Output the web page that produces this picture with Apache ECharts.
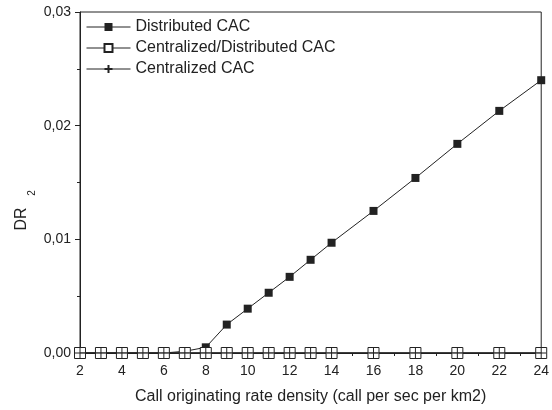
<!DOCTYPE html>
<html>
<head>
<meta charset="utf-8">
<script src="https://cdn.jsdelivr.net/npm/echarts@6/dist/echarts.min.js"></script>
<style>
html,body{margin:0;padding:0;background:#fff;}
#chart{width:552px;height:410px;}
</style>
</head>
<body>
<div id="chart"></div>
<script>
var xValues = [2, 3, 4, 5, 6, 7, 8, 9, 10, 11, 12, 13, 14, 16, 18, 20, 22, 24];
var distributed = [0, 0, 0, 0, 0, 0.00015, 0.0005, 0.0025, 0.0039, 0.0053, 0.0067, 0.0082, 0.0097, 0.0125, 0.0154, 0.0184, 0.0213, 0.0240];
var centralizedDistributed = [0, 0, 0, 0, 0, 0, 0, 0, 0, 0, 0, 0, 0, 0, 0, 0, 0, 0];
var centralized = [0, 0, 0, 0, 0, 0, 0, 0, 0, 0, 0, 0, 0, 0, 0, 0, 0, 0];
var seriesNames = ['Distributed CAC', 'Centralized/Distributed CAC', 'Centralized CAC'];
var xTitle = 'Call originating rate density (call per sec per km2)';
var yTitle = 'DR';
var yTitleSub = '2';

function pairs(vals) {
  return xValues.map(function (x, i) { return [x, vals[i]]; });
}

var ink = '#222';
var chart = echarts.init(document.getElementById('chart'), null, {renderer: 'canvas'});
var font = "'Liberation Sans', Arial, sans-serif";

chart.setOption({
  animation: false,
  backgroundColor: '#fff',
  textStyle: {fontFamily: font, color: ink},
  grid: {left: 80, right: 10, top: 12, bottom: 54, show: true, borderColor: ink, borderWidth: 1, backgroundColor: 'transparent'},
  legend: {
    left: 81, top: 14, orient: 'vertical',
    itemWidth: 44, itemHeight: 10, itemGap: 5,
    lineStyle: {width: 1},
    textStyle: {fontSize: 16, color: ink, fontFamily: font},
    data: seriesNames
  },
  xAxis: {
    type: 'value', min: 2, max: 24, interval: 2,
    name: xTitle, nameLocation: 'middle', nameGap: 36,
    nameTextStyle: {fontSize: 16, color: ink, fontFamily: font},
    axisLine: {show: true, onZero: false, lineStyle: {color: ink, width: 1}},
    axisTick: {show: true, inside: false, length: 5, lineStyle: {color: ink}},
    minorTick: {show: true, splitNumber: 2, length: 3, lineStyle: {color: ink}},
    axisLabel: {fontSize: 14, color: ink, margin: 11, fontFamily: font},
    splitLine: {show: false}
  },
  yAxis: {
    type: 'value', min: 0, max: 0.03, interval: 0.01,
    axisLine: {show: true, lineStyle: {color: ink, width: 1}},
    axisTick: {show: true, inside: false, length: 5, lineStyle: {color: ink}},
    minorTick: {show: true, splitNumber: 2, length: 3, lineStyle: {color: ink}},
    axisLabel: {fontSize: 14, color: ink, margin: 9, fontFamily: font,
      formatter: function (v) { return v.toFixed(2).replace('.', ','); }},
    splitLine: {show: false}
  },
  graphic: [{
    type: 'text',
    x: 22, y: 219, rotation: Math.PI / 2,
    style: {
      text: yTitle, fontSize: 16, fontFamily: font, fill: ink,
      align: 'center', verticalAlign: 'middle'
    }
  }, {
    type: 'text',
    x: 32, y: 193, rotation: Math.PI / 2,
    style: {
      text: yTitleSub, fontSize: 10, fontFamily: font, fill: ink,
      align: 'center', verticalAlign: 'middle'
    }
  }],
  series: [
    {
      name: seriesNames[0], type: 'line', data: pairs(distributed),
      symbol: 'rect', symbolSize: 8, showAllSymbol: true, z: 2,
      lineStyle: {color: ink, width: 1},
      itemStyle: {color: ink, borderColor: ink, borderWidth: 0}
    },
    {
      name: seriesNames[1], type: 'line', data: pairs(centralizedDistributed),
      symbol: 'rect', symbolSize: 11, showAllSymbol: true, z: 3,
      lineStyle: {color: ink, width: 1},
      itemStyle: {color: '#fff', borderColor: ink, borderWidth: 1}
    },
    {
      name: seriesNames[2], type: 'line', data: pairs(centralized),
      symbol: 'path://M5,0L5,10M0,5L10,5', symbolSize: 10, showAllSymbol: true, z: 4,
      lineStyle: {color: ink, width: 1},
      itemStyle: {color: 'none', borderColor: ink, borderWidth: 1}
    }
  ]
});
</script>
</body>
</html>
